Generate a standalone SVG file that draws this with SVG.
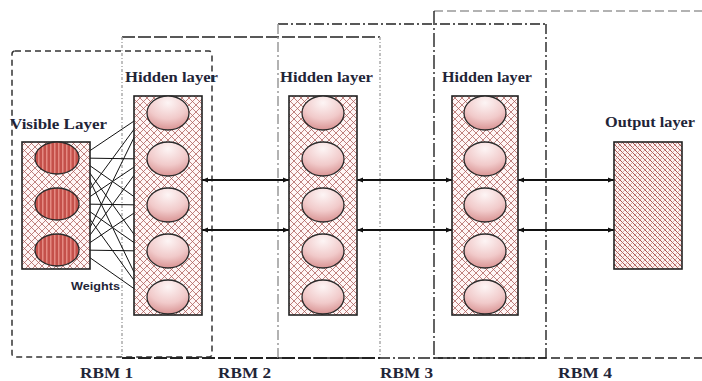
<svg xmlns="http://www.w3.org/2000/svg" width="702" height="381" viewBox="0 0 702 381">
  <style>
    .lbl { font-family: "Liberation Serif", "DejaVu Serif", serif; font-weight: bold; fill: #1f2538; }
    .rbm { font-size: 15px; }
    .title { font-size: 15px; }
    .wts { font-family: "Liberation Sans", "DejaVu Sans", sans-serif; font-weight: bold; font-size: 10px; fill: #1f2538; }
    .layer { fill: url(#hatch); stroke: #222; stroke-width: 1.6; }
    .hid { fill: url(#hidFill); stroke: #2a2a2a; stroke-width: 1.3; }
    .vis { fill: url(#stripes); stroke: #2a2a2a; stroke-width: 1.3; }
    .weight { stroke: #111; stroke-width: 1; fill: none; marker-end: url(#tip); }
    .link { stroke: #111; stroke-width: 2.2; fill: none; marker-start: url(#headStart); marker-end: url(#headEnd); }
  </style>
  <defs>
    <pattern id="hatch" width="7" height="7" patternUnits="userSpaceOnUse">
      <rect width="7" height="7" fill="#fff6f6"/>
      <path d="M0,0 L7,7 M-1,6 L1,8 M6,-1 L8,1" stroke="#a95a55" stroke-width="0.75"/>
      <path d="M7,0 L0,7 M-1,1 L1,-1 M6,8 L8,6" stroke="#a95a55" stroke-width="0.75"/>
    </pattern>
    <pattern id="hatchDense" width="5" height="5" patternUnits="userSpaceOnUse">
      <rect width="5" height="5" fill="#fdf2f2"/>
      <path d="M0,0 L5,5 M-1,4 L1,6 M4,-1 L6,1" stroke="#a4453f" stroke-width="0.9"/>
      <path d="M5,0 L0,5 M-1,1 L1,-1 M4,6 L6,4" stroke="#c07a75" stroke-width="0.6"/>
    </pattern>
    <pattern id="stripes" width="4" height="4" patternUnits="userSpaceOnUse">
      <rect width="4" height="4" fill="#c4504a"/>
      <rect x="2" width="1.5" height="4" fill="#e48a82"/>
    </pattern>
    <radialGradient id="hidFill" cx="50%" cy="20%" r="80%">
      <stop offset="0" stop-color="#fdf5f5"/>
      <stop offset="0.6" stop-color="#f1caca"/>
      <stop offset="1" stop-color="#d99494"/>
    </radialGradient>
    <marker id="tip" viewBox="0 0 10 10" refX="10" refY="5" markerWidth="5" markerHeight="5" orient="auto" markerUnits="userSpaceOnUse">
      <path d="M0,1 L10,5 L0,9 Z" fill="#111"/>
    </marker>
    <marker id="headEnd" viewBox="0 0 10 10" refX="10" refY="5" markerWidth="6" markerHeight="6" orient="auto" markerUnits="userSpaceOnUse">
      <path d="M0,1 L10,5 L0,9 Z" fill="#111"/>
    </marker>
    <marker id="headStart" viewBox="0 0 10 10" refX="0" refY="5" markerWidth="6" markerHeight="6" orient="auto" markerUnits="userSpaceOnUse">
      <path d="M10,1 L0,5 L10,9 Z" fill="#111"/>
    </marker>
  </defs>

  <rect width="702" height="381" fill="#ffffff"/>

  <!-- RBM grouping frames -->
  <g id="rbm-frames" fill="none">
    <rect x="12" y="51" width="200" height="306" rx="3" stroke="#333" stroke-width="1.5" stroke-dasharray="6 4"/>
    <!-- RBM 2 -->
    <line x1="122" y1="37" x2="380" y2="37" stroke="#222" stroke-width="1.5" stroke-dasharray="13 3"/>
    <line x1="122" y1="37" x2="122" y2="358" stroke="#aaa" stroke-width="1.5" stroke-dasharray="3 2 1 2"/>
    <line x1="380" y1="37" x2="380" y2="358" stroke="#aaa" stroke-width="1.5" stroke-dasharray="3 2 1 2"/>
    <line x1="122" y1="358" x2="380" y2="358" stroke="#222" stroke-width="1.8" stroke-dasharray="13 3"/>
    <!-- RBM 3 -->
    <line x1="278" y1="24" x2="546" y2="24" stroke="#222" stroke-width="1.4" stroke-dasharray="10 3 2 3"/>
    <line x1="278" y1="24" x2="278" y2="358" stroke="#999" stroke-width="1.5" stroke-dasharray="10 3 2 3"/>
    <line x1="546" y1="24" x2="546" y2="358" stroke="#222" stroke-width="1.4" stroke-dasharray="10 3 2 3"/>
    <line x1="278" y1="358" x2="546" y2="358" stroke="#222" stroke-width="1.4" stroke-dasharray="12 3 2 3"/>
    <!-- RBM 4 -->
    <line x1="434" y1="11" x2="702" y2="11" stroke="#999" stroke-width="1.6" stroke-dasharray="9 4"/>
    <line x1="434" y1="11" x2="434" y2="358" stroke="#222" stroke-width="1.4" stroke-dasharray="14 3 2 3"/>
    <line x1="434" y1="358" x2="702" y2="358" stroke="#222" stroke-width="1.4" stroke-dasharray="9 4"/>
  </g>

  <!-- connectors -->
  <g id="connectors">
    <g id="weights">
      <line class="weight" x1="79" y1="158" x2="146" y2="113"/>
      <line class="weight" x1="79" y1="158" x2="146" y2="159"/>
      <line class="weight" x1="79" y1="158" x2="146" y2="205"/>
      <line class="weight" x1="79" y1="158" x2="146" y2="251"/>
      <line class="weight" x1="79" y1="158" x2="146" y2="297"/>
      <line class="weight" x1="79" y1="204" x2="146" y2="113"/>
      <line class="weight" x1="79" y1="204" x2="146" y2="159"/>
      <line class="weight" x1="79" y1="204" x2="146" y2="205"/>
      <line class="weight" x1="79" y1="204" x2="146" y2="251"/>
      <line class="weight" x1="79" y1="204" x2="146" y2="297"/>
      <line class="weight" x1="79" y1="250" x2="146" y2="113"/>
      <line class="weight" x1="79" y1="250" x2="146" y2="159"/>
      <line class="weight" x1="79" y1="250" x2="146" y2="205"/>
      <line class="weight" x1="79" y1="250" x2="146" y2="251"/>
      <line class="weight" x1="79" y1="250" x2="146" y2="297"/>
    </g>
    <line class="link" x1="202" y1="180" x2="289" y2="180"/>
    <line class="link" x1="202" y1="230" x2="289" y2="230"/>
    <line class="link" x1="357" y1="180" x2="452" y2="180"/>
    <line class="link" x1="357" y1="230" x2="452" y2="230"/>
    <line class="link" x1="518" y1="180" x2="614" y2="180"/>
    <line class="link" x1="518" y1="230" x2="614" y2="230"/>
  </g>

  <!-- visible layer -->
  <g id="visible-layer">
    <rect class="layer" x="22" y="142" width="68" height="127" stroke="#888"/>
    <ellipse class="vis" cx="57" cy="158" rx="22" ry="16"/>
    <ellipse class="vis" cx="57" cy="204" rx="22" ry="16"/>
    <ellipse class="vis" cx="57" cy="250" rx="22" ry="16"/>
    <text class="lbl title" x="10" y="129" textLength="97" lengthAdjust="spacingAndGlyphs">Visible Layer</text>
  </g>

  <!-- hidden layer 1 -->
  <g id="hidden-layer-1">
    <rect class="layer" x="134" y="96" width="68" height="219"/>
    <ellipse class="hid" cx="168" cy="113" rx="21" ry="17"/>
    <ellipse class="hid" cx="168" cy="159" rx="21" ry="17"/>
    <ellipse class="hid" cx="168" cy="205" rx="21" ry="17"/>
    <ellipse class="hid" cx="168" cy="251" rx="21" ry="17"/>
    <ellipse class="hid" cx="168" cy="297" rx="21" ry="17"/>
    <text class="lbl title" x="125" y="82" textLength="93" lengthAdjust="spacingAndGlyphs">Hidden layer</text>
  </g>

  <!-- hidden layer 2 -->
  <g id="hidden-layer-2">
    <rect class="layer" x="289" y="96" width="68" height="219"/>
    <ellipse class="hid" cx="323" cy="113" rx="21" ry="17"/>
    <ellipse class="hid" cx="323" cy="159" rx="21" ry="17"/>
    <ellipse class="hid" cx="323" cy="205" rx="21" ry="17"/>
    <ellipse class="hid" cx="323" cy="251" rx="21" ry="17"/>
    <ellipse class="hid" cx="323" cy="297" rx="21" ry="17"/>
    <text class="lbl title" x="280" y="82" textLength="93" lengthAdjust="spacingAndGlyphs">Hidden layer</text>
  </g>

  <!-- hidden layer 3 -->
  <g id="hidden-layer-3">
    <rect class="layer" x="452" y="96" width="66" height="219"/>
    <ellipse class="hid" cx="485" cy="113" rx="21" ry="17"/>
    <ellipse class="hid" cx="485" cy="159" rx="21" ry="17"/>
    <ellipse class="hid" cx="485" cy="205" rx="21" ry="17"/>
    <ellipse class="hid" cx="485" cy="251" rx="21" ry="17"/>
    <ellipse class="hid" cx="485" cy="297" rx="21" ry="17"/>
    <text class="lbl title" x="442" y="82" textLength="90" lengthAdjust="spacingAndGlyphs">Hidden layer</text>
  </g>

  <!-- output layer -->
  <g id="output-layer">
    <rect x="614" y="142" width="68" height="127" fill="url(#hatchDense)" stroke="#222" stroke-width="1.6"/>
    <text class="lbl title" x="605" y="127" textLength="90" lengthAdjust="spacingAndGlyphs">Output layer</text>
  </g>

  <text class="wts" x="71" y="290" textLength="49" lengthAdjust="spacingAndGlyphs">Weights</text>

  <!-- RBM captions -->
  <g id="rbm-labels">
    <text class="lbl rbm" x="80" y="378" textLength="53" lengthAdjust="spacingAndGlyphs">RBM 1</text>
    <text class="lbl rbm" x="218" y="378" textLength="53" lengthAdjust="spacingAndGlyphs">RBM 2</text>
    <text class="lbl rbm" x="380" y="378" textLength="53" lengthAdjust="spacingAndGlyphs">RBM 3</text>
    <text class="lbl rbm" x="558" y="378" textLength="54" lengthAdjust="spacingAndGlyphs">RBM 4</text>
  </g>
</svg>
